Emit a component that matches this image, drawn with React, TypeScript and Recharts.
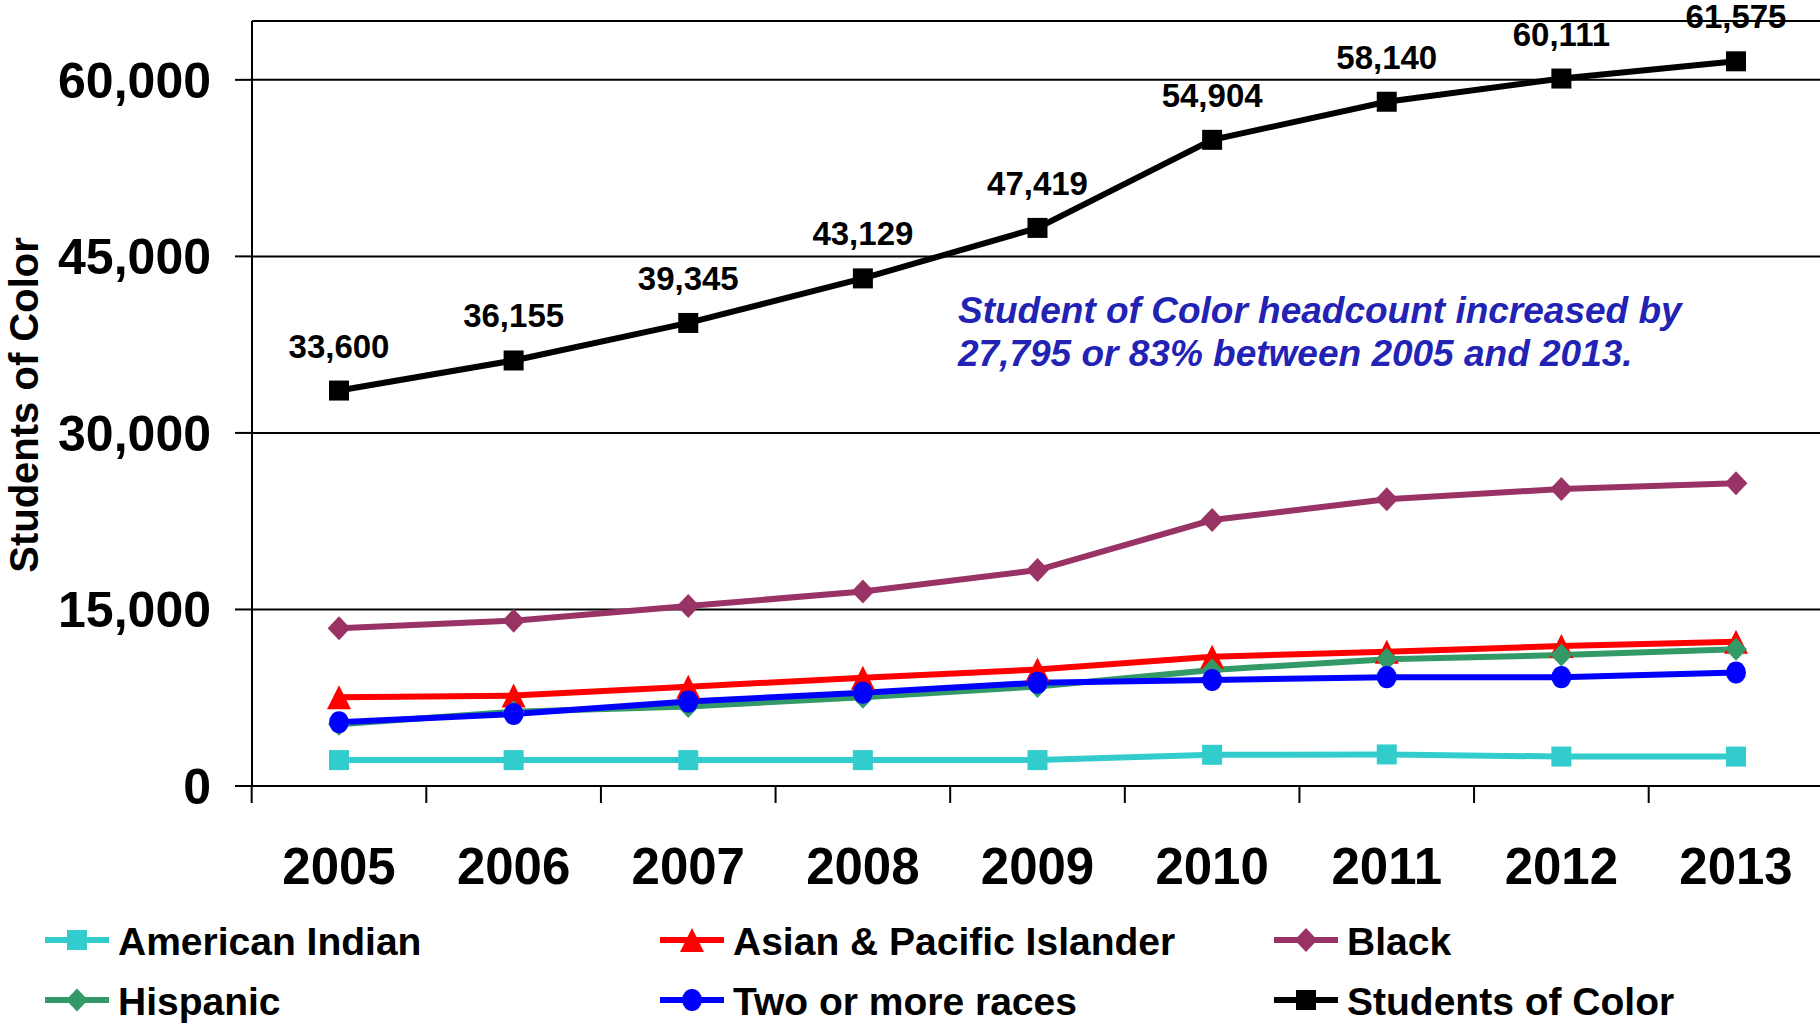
import React from 'react';
import {
  LineChart,
  Line,
  XAxis,
  YAxis,
  CartesianGrid,
  ReferenceLine,
  LabelList,
  Legend,
} from 'recharts';

// Headcount of students of color by year
const years = ['2005', '2006', '2007', '2008', '2009', '2010', '2011', '2012', '2013'];
const americanIndian = [2200, 2200, 2200, 2200, 2200, 2650, 2680, 2500, 2500];
const asianPacific = [7540, 7680, 8440, 9200, 9900, 10990, 11400, 11900, 12260];
const black = [13400, 14050, 15300, 16520, 18350, 22600, 24360, 25240, 25720];
const hispanic = [5250, 6300, 6750, 7550, 8450, 9860, 10760, 11130, 11620];
const twoOrMore = [5410, 6120, 7170, 7930, 8780, 9000, 9250, 9250, 9650];
const studentsOfColor = [33600, 36155, 39345, 43129, 47419, 54904, 58140, 60111, 61575];

const yTicks = [0, 15000, 30000, 45000, 60000];
const yMax = 65000;

const axisTitle = 'Students of Color';
const noteLines = [
  'Student of Color headcount increased by',
  '27,795 or 83% between 2005 and 2013.',
];

type Shape = 'square' | 'triangle' | 'diamond' | 'circle';

interface SeriesDef {
  key: string;
  name: string;
  color: string;
  shape: Shape;
  size: number;
  values: number[];
}

const series: SeriesDef[] = [
  { key: 'americanIndian', name: 'American Indian', color: '#33CCCC', shape: 'square', size: 20, values: americanIndian },
  { key: 'asianPacific', name: 'Asian & Pacific Islander', color: '#FF0000', shape: 'triangle', size: 24, values: asianPacific },
  { key: 'black', name: 'Black', color: '#993366', shape: 'diamond', size: 24, values: black },
  { key: 'hispanic', name: 'Hispanic', color: '#339966', shape: 'diamond', size: 23, values: hispanic },
  { key: 'twoOrMore', name: 'Two or more races', color: '#0000FF', shape: 'circle', size: 21, values: twoOrMore },
  { key: 'studentsOfColor', name: 'Students of Color', color: '#000000', shape: 'square', size: 20, values: studentsOfColor },
];

const data = years.map((year, i) => {
  const row: Record<string, string | number> = { year };
  series.forEach((s) => {
    row[s.key] = s.values[i];
  });
  return row;
});

const FONT = '"Liberation Sans", Arial, Helvetica, sans-serif';
const W = 1820;
const H = 1030;
const LEFT = 252;
const TOP = 21;
const BOTTOM = 244;
const PAD_L = 87;
const PAD_R = 84;
const HALF_BAND = (W - LEFT - PAD_L - PAD_R) / (years.length - 1) / 2;

function Marker({ shape, cx, cy, size, color }: { shape: Shape; cx: number; cy: number; size: number; color: string }) {
  const h = size / 2;
  if (shape === 'square') {
    return <rect x={cx - h} y={cy - h} width={size} height={size} fill={color} />;
  }
  if (shape === 'triangle') {
    return <polygon points={`${cx},${cy - h} ${cx + h},${cy + h} ${cx - h},${cy + h}`} fill={color} />;
  }
  if (shape === 'diamond') {
    return <polygon points={`${cx},${cy - h} ${cx + h * 0.95},${cy} ${cx},${cy + h} ${cx - h * 0.95},${cy}`} fill={color} />;
  }
  return <ellipse cx={cx} cy={cy} rx={h * 0.95} ry={h * 1.05} fill={color} />;
}

const XTick = (props: any) => {
  const { x, y, payload } = props;
  return (
    <g>
      <line x1={x - HALF_BAND} x2={x - HALF_BAND} y1={y} y2={y + 17} stroke="#000" strokeWidth={2} />
      <text x={x} y={y + 98} textAnchor="middle" fontFamily={FONT} fontWeight="bold" fontSize={51} fill="#000">
        {payload.value}
      </text>
    </g>
  );
};

const YTick = (props: any) => {
  const { x, y, payload } = props;
  return (
    <text x={x - 24} y={y + 18} textAnchor="end" fontFamily={FONT} fontWeight="bold" fontSize={50} fill="#000">
      {Number(payload.value).toLocaleString('en-US')}
    </text>
  );
};

const ValueLabel = (props: any) => {
  const { x, y, value } = props;
  return (
    <text x={x} y={y - 33} textAnchor="middle" fontFamily={FONT} fontWeight="bold" fontSize={33} fill="#000">
      {Number(value).toLocaleString('en-US')}
    </text>
  );
};

const legendCols = [45, 660, 1274];
const legendRows = [60, 120];

const LegendContent = () => (
  <svg width={W} height={150} style={{ display: 'block' }}>
    {series.map((s, i) => {
      const lx = legendCols[i % 3];
      const ly = legendRows[Math.floor(i / 3)];
      return (
        <g key={s.key}>
          <line x1={lx} x2={lx + 64} y1={ly} y2={ly} stroke={s.color} strokeWidth={6} />
          <Marker shape={s.shape} cx={lx + 32} cy={ly} size={s.size} color={s.color} />
          <text x={lx + 73} y={ly + 15} fontFamily={FONT} fontWeight="bold" fontSize={39} fill="#000">
            {s.name}
          </text>
        </g>
      );
    })}
  </svg>
);

export default function App() {
  return (
    <div style={{ position: 'absolute', left: 0, top: 0, width: W, height: H, background: '#fff', overflow: 'hidden' }}>
      <LineChart width={W} height={H} data={data} margin={{ top: TOP, right: 0, bottom: 0, left: 0 }}>
        <CartesianGrid horizontal vertical={false} stroke="#000" strokeWidth={2} />
        <ReferenceLine y={yMax} stroke="#000" strokeWidth={2} />
        <XAxis
          dataKey="year"
          height={BOTTOM}
          padding={{ left: PAD_L, right: PAD_R }}
          axisLine={{ stroke: '#000', strokeWidth: 2 }}
          tickLine={false}
          tickSize={0}
          tickMargin={0}
          interval={0}
          tick={<XTick />}
        />
        <YAxis
          width={LEFT}
          domain={[0, yMax]}
          ticks={yTicks}
          interval={0}
          axisLine={{ stroke: '#000', strokeWidth: 2 }}
          tickLine={{ stroke: '#000', strokeWidth: 2 }}
          tickSize={17}
          tickMargin={0}
          tick={<YTick />}
        />
        {series.map((s) => (
          <Line
            key={s.key}
            dataKey={s.key}
            name={s.name}
            type="linear"
            stroke={s.color}
            strokeWidth={6}
            isAnimationActive={false}
            dot={(p: any) => (
              <Marker key={`${s.key}-${p.index}`} shape={s.shape} cx={p.cx} cy={p.cy} size={s.size} color={s.color} />
            )}
            activeDot={false}
          >
            {s.key === 'studentsOfColor' ? <LabelList dataKey={s.key} content={<ValueLabel />} /> : null}
          </Line>
        ))}
        <Legend
          layout="horizontal"
          verticalAlign="middle"
          align="center"
          content={<LegendContent />}
          wrapperStyle={{ position: 'absolute', left: 0, top: 880, width: W, height: 150 }}
        />
      </LineChart>
      <svg
        width={W}
        height={H}
        style={{ position: 'absolute', left: 0, top: 0, pointerEvents: 'none' }}
      >
        <text
          x={38}
          y={405}
          transform="rotate(-90, 38, 405)"
          textAnchor="middle"
          fontFamily={FONT}
          fontWeight="bold"
          fontSize={40}
          fill="#000"
        >
          {axisTitle}
        </text>
        {noteLines.map((t, i) => (
          <text
            key={i}
            x={958}
            y={323 + i * 43}
            fontFamily={FONT}
            fontWeight="bold"
            fontStyle="italic"
            fontSize={37}
            fill="#2222B4"
          >
            {t}
          </text>
        ))}
      </svg>
    </div>
  );
}
